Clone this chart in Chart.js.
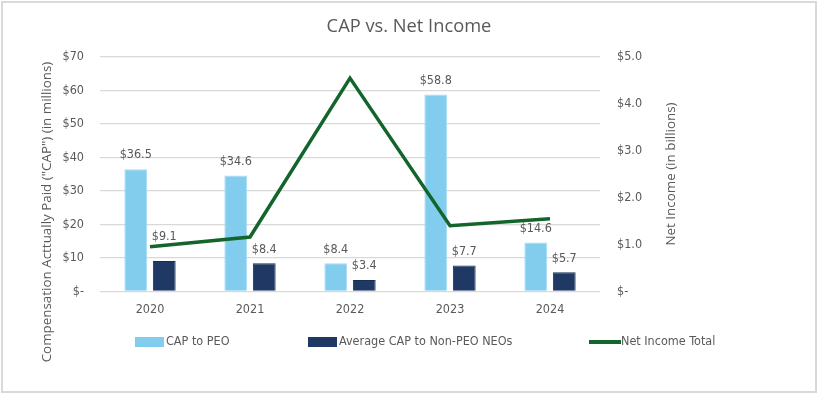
<!DOCTYPE html>
<html>
<head>
<meta charset="utf-8">
<script src="https://cdn.jsdelivr.net/npm/chart.js@4.4.1/dist/chart.umd.min.js"></script>
<style>
  html, body { margin: 0; padding: 0; background: #ffffff; }
  #wrap { position: relative; width: 820px; height: 396px; }
  canvas { display: block; }
</style>
</head>
<body>
<div id="wrap"><canvas id="c" width="820" height="396"></canvas></div>
<script>
const categories = ["2020", "2021", "2022", "2023", "2024"];
const capToPeo = [36.5, 34.6, 8.4, 58.8, 14.6];
const avgCapNonPeo = [9.1, 8.4, 3.4, 7.7, 5.7];
const netIncome = [0.95, 1.16, 4.55, 1.40, 1.55];
const leftTicks = [0, 10, 20, 30, 40, 50, 60, 70];
const rightTicks = [0, 1, 2, 3, 4, 5];

const chartTitle = "CAP vs. Net Income";
const leftTitle = 'Compensation Acttually Paid ("CAP") (in millions)';
const rightTitle = "Net Income (in billions)";
const legendLabels = ["CAP to PEO", "Average CAP to Non-PEO NEOs", "Net Income Total"];

const GRAY = "#595959";
const LIGHT = "#82cdee";
const DARK = "#203864";
const GREEN = "#13652b";
const NARROW = '"Liberation Sans Narrow", "DejaVu Sans Condensed", sans-serif';
const SANS = '"Open Sans", "Noto Sans", sans-serif';

// extra vertical lift for labels that would collide with the line (dataset, index)
const labelLift = { "1,0": 10 };

const decor = {
  id: "decor",
  afterDatasetsDraw(chart) {
    const ctx = chart.ctx;
    ctx.save();
    ctx.font = "12.5px " + NARROW;
    ctx.fillStyle = GRAY;
    ctx.textAlign = "center";
    ctx.textBaseline = "middle";
    [0, 1].forEach(di => {
      const meta = chart.getDatasetMeta(di);
      meta.data.forEach((bar, i) => {
        const v = chart.data.datasets[di].data[i];
        const lift = labelLift[di + "," + i] || 0;
        ctx.fillText("$" + v.toFixed(1), bar.x, bar.y - 14 - lift);
      });
    });
    ctx.restore();
  },
  afterDraw(chart) {
    const ctx = chart.ctx;
    ctx.save();
    // frame
    ctx.strokeStyle = "#d9d9d9";
    ctx.lineWidth = 2;
    ctx.strokeRect(2, 2, 814, 390);
    // title
    ctx.fillStyle = GRAY;
    ctx.font = "18.3px " + SANS;
    ctx.textAlign = "center";
    ctx.textBaseline = "middle";
    ctx.fillText(chartTitle, 409, 27);
    // axis titles
    ctx.font = "13.4px " + SANS;
    ctx.save();
    ctx.translate(47, 212);
    ctx.rotate(-Math.PI / 2);
    ctx.fillText(leftTitle, 0, 0);
    ctx.restore();
    ctx.save();
    ctx.translate(671, 174);
    ctx.rotate(-Math.PI / 2);
    ctx.fillText(rightTitle, 0, 0);
    ctx.restore();
    // legend
    const ly = 342;
    ctx.font = "12.5px " + NARROW;
    ctx.textAlign = "left";
    ctx.fillStyle = LIGHT;
    ctx.fillRect(135, ly - 5, 29, 10);
    ctx.fillStyle = DARK;
    ctx.fillRect(308, ly - 5, 29, 10);
    ctx.strokeStyle = GREEN;
    ctx.lineWidth = 4;
    ctx.beginPath();
    ctx.moveTo(589, ly);
    ctx.lineTo(621, ly);
    ctx.stroke();
    ctx.fillStyle = GRAY;
    ctx.fillText(legendLabels[0], 166, ly);
    ctx.fillText(legendLabels[1], 339, ly);
    ctx.fillText(legendLabels[2], 621, ly);
    ctx.restore();
  }
};

new Chart(document.getElementById("c"), {
  type: "bar",
  data: {
    labels: categories,
    datasets: [
      { label: legendLabels[0], data: capToPeo, backgroundColor: LIGHT, borderColor: "#a6dbf3", borderWidth: 1, yAxisID: "y", order: 2,
        categoryPercentage: 0.57, barPercentage: 0.8 },
      { label: legendLabels[1], data: avgCapNonPeo, backgroundColor: DARK, borderColor: "#1a2e52", borderWidth: 1, yAxisID: "y", order: 2,
        categoryPercentage: 0.57, barPercentage: 0.8 },
      { label: legendLabels[2], type: "line", data: netIncome, borderColor: GREEN, borderWidth: 3.5, pointRadius: 0,
        fill: false, tension: 0, yAxisID: "y1", order: 0 }
    ]
  },
  options: {
    responsive: false,
    animation: false,
    layout: { padding: { top: 57, left: 0, right: 0, bottom: 0 } },
    plugins: { legend: { display: false }, title: { display: false }, tooltip: { enabled: false } },
    scales: {
      x: {
        grid: { display: false, drawTicks: false },
        border: { display: false },
        ticks: { color: GRAY, font: { family: NARROW, size: 12.5 }, padding: 11 },
        afterFit(s) { s.height = 104.6; }
      },
      y: {
        position: "left",
        min: 0, max: 70,
        afterBuildTicks(s) { s.ticks = leftTicks.map(v => ({ value: v })); },
        grid: { color: "#d9d9d9", lineWidth: 1.3, drawTicks: false },
        border: { display: false },
        ticks: { color: GRAY, font: { family: NARROW, size: 12.5 }, padding: 16,
          callback: v => v === 0 ? "$-" : "$" + v },
        afterFit(s) { s.width = 100; }
      },
      y1: {
        position: "right",
        min: 0, max: 5,
        afterBuildTicks(s) { s.ticks = rightTicks.map(v => ({ value: v })); },
        grid: { display: false, drawTicks: false },
        border: { display: false },
        ticks: { color: GRAY, font: { family: NARROW, size: 12.5 }, padding: 17,
          callback: v => v === 0 ? "$-" : "$" + v.toFixed(1) },
        afterFit(s) { s.width = 220; }
      }
    }
  },
  plugins: [decor]
});
</script>
</body>
</html>
